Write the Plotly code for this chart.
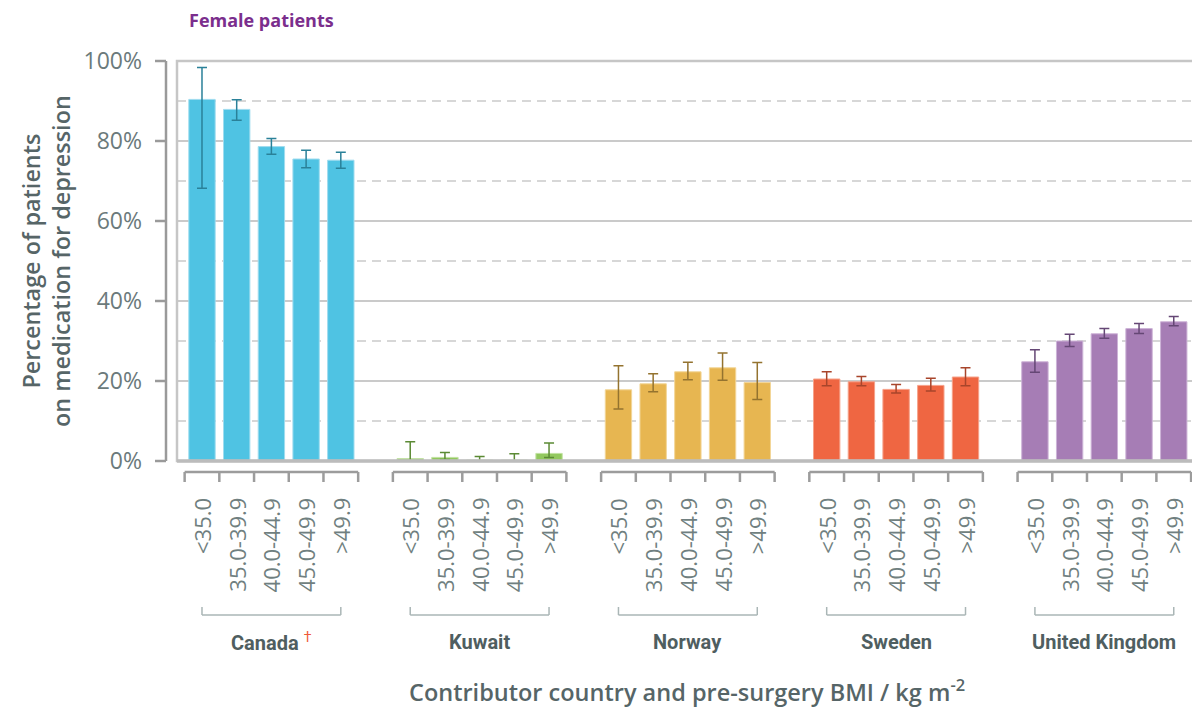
import plotly.graph_objects as go

categories = ["<35.0", "35.0-39.9", "40.0-44.9", "45.0-49.9", ">49.9"]
countries = ["Canada", "Kuwait", "Norway", "Sweden", "United Kingdom"]

canada = [90.4, 87.9, 78.6, 75.5, 75.2]
canada_hi = [98.4, 90.3, 80.6, 77.7, 77.2]
canada_lo = [68.2, 85.2, 76.7, 73.3, 73.2]

kuwait = [0.6, 0.9, 0.2, 0.2, 1.9]
kuwait_hi = [4.8, 2.1, 1.1, 1.8, 4.5]
kuwait_lo = [0.0, 0.4, 0.0, 0.0, 0.9]

norway = [17.8, 19.3, 22.3, 23.3, 19.6]
norway_hi = [23.8, 21.8, 24.7, 27.0, 24.6]
norway_lo = [13.0, 17.3, 20.3, 20.2, 15.4]

sweden = [20.5, 19.8, 17.9, 18.9, 21.0]
sweden_hi = [22.3, 21.1, 19.1, 20.7, 23.3]
sweden_lo = [18.8, 18.8, 17.0, 17.5, 18.8]

uk = [24.8, 30.0, 31.8, 33.1, 34.8]
uk_hi = [27.8, 31.7, 33.1, 34.4, 36.1]
uk_lo = [22.2, 28.6, 30.7, 31.9, 33.8]

y_ticks = [0, 20, 40, 60, 80, 100]
dashed_levels = [10, 30, 50, 70, 90]

series = [
    (canada, canada_hi, canada_lo),
    (kuwait, kuwait_hi, kuwait_lo),
    (norway, norway_hi, norway_lo),
    (sweden, sweden_hi, sweden_lo),
    (uk, uk_hi, uk_lo),
]
bar_colors = ["#4fc3e3", "#92c85e", "#e7b651", "#ef6642", "#a67db5"]
edge_colors = ["#9fdcef", "#c2e2a3", "#f3d698", "#f6a28a", "#cdb3d7"]
err_colors = ["#2a8199", "#5b8a34", "#94732f", "#a8452b", "#654775"]

GAP = 6
fig = go.Figure()
tickvals, ticktext = [], []
for g, (name, (vals, hi, lo)) in enumerate(zip(countries, series)):
    xs = [g * GAP + i for i in range(len(categories))]
    tickvals += xs
    ticktext += categories
    fig.add_trace(go.Bar(
        x=xs, y=vals, width=0.76, name=name,
        marker=dict(color=bar_colors[g], line=dict(color=edge_colors[g], width=1)),
        error_y=dict(type="data", symmetric=False,
                     array=[h - v for h, v in zip(hi, vals)],
                     arrayminus=[v - l for v, l in zip(vals, lo)],
                     color=err_colors[g], thickness=1.5, width=5),
        showlegend=False, hoverinfo="skip",
    ))

PW = 1020.0
PH = 400.0


def py(px):
    return (461 - px) / PH


def pxp(px):
    return (px - 177) / PW


shapes = []
for lv in dashed_levels:
    shapes.append(dict(type="line", xref="paper", yref="paper", x0=0, x1=1,
                       y0=lv / 100, y1=lv / 100, layer="below",
                       line=dict(color="#cacaca", width=1.5, dash="9px,6px")))
shapes.append(dict(type="rect", xref="paper", yref="paper", x0=0, x1=1, y0=0, y1=1,
                   line=dict(color="#c6c6c6", width=2.5), layer="above"))
shapes.append(dict(type="line", xref="paper", yref="paper", x0=0, x1=1, y0=0, y1=0,
                   line=dict(color="#bcbcbc", width=3.5), layer="above"))
ax_x = pxp(166)
tk_x = pxp(155)
shapes.append(dict(type="line", xref="paper", yref="paper", x0=ax_x, x1=ax_x, y0=0, y1=1,
                   line=dict(color="#9a9a9a", width=2.5)))
for t in y_ticks:
    shapes.append(dict(type="line", xref="paper", yref="paper", x0=tk_x, x1=ax_x,
                       y0=t / 100, y1=t / 100, line=dict(color="#9a9a9a", width=2.5)))

for g in range(len(countries)):
    left = g * GAP - 0.5
    right = g * GAP + len(categories) - 0.5
    shapes.append(dict(type="line", xref="x", yref="paper", x0=left, x1=right,
                       y0=py(472), y1=py(472), line=dict(color="#9c9c9c", width=2.5)))
    for i in range(len(categories) + 1):
        xb = g * GAP + i - 0.5
        shapes.append(dict(type="line", xref="x", yref="paper", x0=xb, x1=xb,
                           y0=py(472), y1=py(482), line=dict(color="#9c9c9c", width=2.5)))
    c0 = g * GAP
    c1 = g * GAP + len(categories) - 1
    shapes.append(dict(type="line", xref="x", yref="paper", x0=c0, x1=c1,
                       y0=py(615), y1=py(615), line=dict(color="#aab6b6", width=1.5)))
    for xb in (c0, c1):
        shapes.append(dict(type="line", xref="x", yref="paper", x0=xb, x1=xb,
                           y0=py(615), y1=py(607), line=dict(color="#aab6b6", width=1.5)))

annotations = []
tick_font = dict(family="Open Sans, sans-serif", size=22, color="#707f80")
for xv, tt in zip(tickvals, ticktext):
    annotations.append(dict(x=xv, y=py(496), xref="x", yref="paper", text=tt,
                            textangle=-90, showarrow=False, xanchor="center",
                            yanchor="top", font=tick_font))

group_font = dict(family="Liberation Sans Narrow, Roboto, sans-serif", size=20, color="#4f5e60")
for g, name in enumerate(countries):
    label = f"<b>{name}</b>"
    if name == "Canada":
        label = "<b>Canada</b> <sup><span style='color:#ef5a3a'>†</span></sup>"
    annotations.append(dict(x=g * GAP + (len(categories) - 1) / 2, y=py(642), xref="x",
                            yref="paper", text=label, showarrow=False, font=group_font,
                            xanchor="center", yanchor="middle"))

annotations.append(dict(x=0.5, y=py(690), xref="paper", yref="paper",
                        text="Contributor country and pre-surgery BMI / kg m<sup>-2</sup>",
                        showarrow=False, xanchor="center", yanchor="middle",
                        font=dict(family="Open Sans, sans-serif", size=23.5, color="#566567", weight=600)))
annotations.append(dict(x=pxp(46), y=0.5, xref="paper", yref="paper",
                        text="Percentage of patients<br>on medication for depression",
                        textangle=-90, showarrow=False, xanchor="center", yanchor="middle",
                        font=dict(family="Open Sans, sans-serif", size=23.4, color="#566567", weight=600)))
annotations.append(dict(x=pxp(187), y=py(20), xref="paper", yref="paper",
                        text="<b>Female patients</b>", showarrow=False,
                        xanchor="left", yanchor="middle",
                        font=dict(family="Open Sans, sans-serif", size=18, color="#7b2e8d")))

fig.update_layout(
    width=1192, height=705,
    margin=dict(l=169, r=3, t=53, b=252),
    paper_bgcolor="white", plot_bgcolor="white",
    barmode="overlay",
    shapes=shapes, annotations=annotations,
    xaxis=dict(range=[-0.72, 28.67], tickvals=tickvals, showticklabels=False,
               ticks="", showgrid=False, zeroline=False, showline=False),
    yaxis=dict(range=[0, 100], tickvals=y_ticks, ticktext=[f"{t}%" for t in y_ticks],
               ticks="", showline=False, zeroline=False,
               showgrid=True, gridcolor="#cacaca", gridwidth=1.5,
               ticklabelstandoff=34,
               tickfont=dict(family="Open Sans, sans-serif", size=23, color="#6b7a7b")),
)

fig.write_html("out.html")
